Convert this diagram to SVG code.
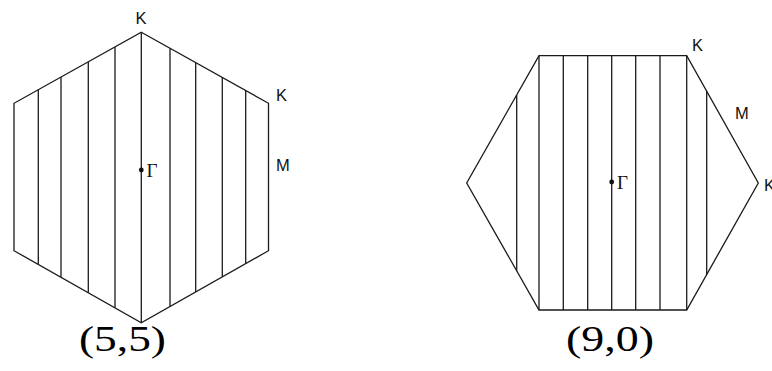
<svg xmlns="http://www.w3.org/2000/svg" width="772" height="371" viewBox="0 0 772 371">
<style>
.edge{fill:none;stroke:#1a1a1a;stroke-width:1.3}
.ln{stroke:#1a1a1a;stroke-width:1.3}
.sym{font-family:"Liberation Sans",Arial,sans-serif;font-size:16.5px;fill:#111}
.gam{font-family:"Liberation Serif","Times New Roman",serif;font-size:19px;fill:#111}
.cap{font-family:"Liberation Serif","Times New Roman",serif;font-size:36px;fill:#000}
</style>
<rect width="772" height="371" fill="#fff"/>
<g id="hex55">
<polygon class="edge" points="141.3,32.3 268.5,103.3 268.5,250.7 141.3,322.7 14,250.7 14,103.3"/>
<g id="lines55">
<line class="ln" x1="38.3" y1="89.8" x2="38.3" y2="264.4"/>
<line class="ln" x1="61" y1="77.1" x2="61" y2="277.3"/>
<line class="ln" x1="88.3" y1="61.9" x2="88.3" y2="292.7"/>
<line class="ln" x1="115" y1="47" x2="115" y2="307.8"/>
<line class="ln" x1="141.3" y1="32.3" x2="141.3" y2="322.7"/>
<line class="ln" x1="170" y1="48.4" x2="170" y2="306.4"/>
<line class="ln" x1="195.7" y1="62.7" x2="195.7" y2="291.9"/>
<line class="ln" x1="222.3" y1="77.5" x2="222.3" y2="276.8"/>
<line class="ln" x1="245.7" y1="90.6" x2="245.7" y2="263.6"/>
</g>
<circle cx="141.3" cy="170" r="2.4" fill="#111"/>
<text class="gam" x="146.5" y="176.5">Γ</text>
<text class="sym" x="135.5" y="24">K</text>
<text class="sym" x="276" y="100.5">K</text>
<text class="sym" x="276" y="171">M</text>
<text class="cap" x="79" y="351" textLength="87" lengthAdjust="spacingAndGlyphs">(5,5)</text>
</g>
<g id="hex90">
<polygon class="edge" points="539,55.7 686.7,55.7 758.3,183 686.7,310 539,310 466.7,183"/>
<g id="lines90">
<line class="ln" x1="516.7" y1="95" x2="516.7" y2="270.8"/>
<line class="ln" x1="539" y1="55.7" x2="539" y2="310"/>
<line class="ln" x1="563.3" y1="55.7" x2="563.3" y2="310"/>
<line class="ln" x1="587.7" y1="55.7" x2="587.7" y2="310"/>
<line class="ln" x1="611.7" y1="55.7" x2="611.7" y2="310"/>
<line class="ln" x1="635.7" y1="55.7" x2="635.7" y2="310"/>
<line class="ln" x1="660" y1="55.7" x2="660" y2="310"/>
<line class="ln" x1="686.7" y1="55.7" x2="686.7" y2="310"/>
<line class="ln" x1="706.7" y1="91.3" x2="706.7" y2="274.5"/>
</g>
<circle cx="611.7" cy="182" r="2.4" fill="#111"/>
<text class="gam" x="617" y="188.5">Γ</text>
<text class="sym" x="692" y="51">K</text>
<text class="sym" x="735" y="119">M</text>
<text class="sym" x="764" y="191">K</text>
<text class="cap" x="566" y="351" textLength="88" lengthAdjust="spacingAndGlyphs">(9,0)</text>
</g>
</svg>
